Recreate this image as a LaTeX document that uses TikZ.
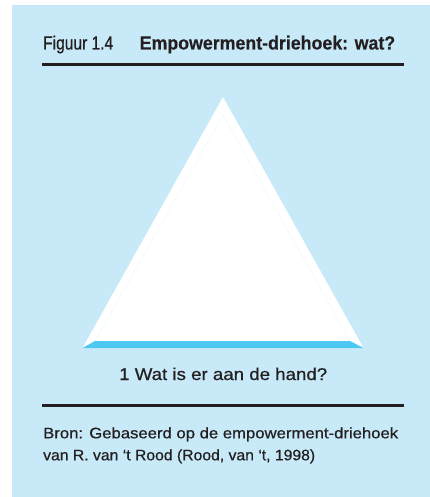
\documentclass[tikz,border=0pt]{standalone}
\usepackage{fontspec}
\setmainfont{Liberation Sans}[FakeBold=0.6,BoldFeatures={FakeBold=0.3}]
\usepackage{graphicx}
\definecolor{bgblue}{HTML}{C7E9F8}
\definecolor{stripblue}{HTML}{4DC8F3}
\definecolor{ink}{HTML}{231F20}
\definecolor{faint}{HTML}{EDF7FB}
\tikzset{
  txt/.style={anchor=base west, inner sep=0pt, text=ink},
  rule/.style={draw=ink, line width=2.6pt},
}
\begin{document}
\begin{tikzpicture}[x=1pt,y=-1pt]
\useasboundingbox (0,0) rectangle (430,497);
\fill[white] (0,0) rectangle (430,497);
\fill[bgblue] (12,5) rectangle (430,497);
% title
\node[txt] (fig) at (43,49.5) {\resizebox{70pt}{\height}{\fontsize{19pt}{22pt}\selectfont Figuur 1.4}};
\node[txt] (title) at (139.5,49.5) {\resizebox{255.5pt}{\height}{\fontsize{19pt}{22pt}\selectfont\bfseries Empowerment-driehoek: wat?}};
\coordinate (r1a) at (42,64.5);
\coordinate (r1b) at (404,64.5);
\draw[rule] (r1a) -- (r1b);
% triangle
\coordinate (A) at (223,97);
\coordinate (B) at (82.5,348);
\coordinate (C) at (363.5,348);
\coordinate (Ai) at (223,115);
\coordinate (Bi) at (95,341);
\coordinate (Ci) at (350,341);
\fill[white] (A) -- (B) -- (C) -- cycle;
\fill[stripblue] (B) -- (C) -- (Ci) -- (Bi) -- cycle;
\draw[faint, line width=0.4pt] (Bi) -- (Ai) -- (Ci);
% caption
\node[txt] (q) at (119,380) {\resizebox{208pt}{\height}{\fontsize{17pt}{20pt}\selectfont 1 Wat is er aan de hand?}};
\coordinate (r2a) at (42,405.5);
\coordinate (r2b) at (404,405.5);
\draw[rule] (r2a) -- (r2b);
\node[txt] (bron1) at (43,438.3) {\resizebox{355pt}{\height}{\fontsize{15.2pt}{18pt}\selectfont Bron: Gebaseerd op de empowerment-driehoek}};
\node[txt] (bron2) at (43,460.3) {\resizebox{272pt}{\height}{\fontsize{15.2pt}{18pt}\selectfont van R. van ‘t Rood (Rood, van ‘t, 1998)}};
\end{tikzpicture}
\end{document}
